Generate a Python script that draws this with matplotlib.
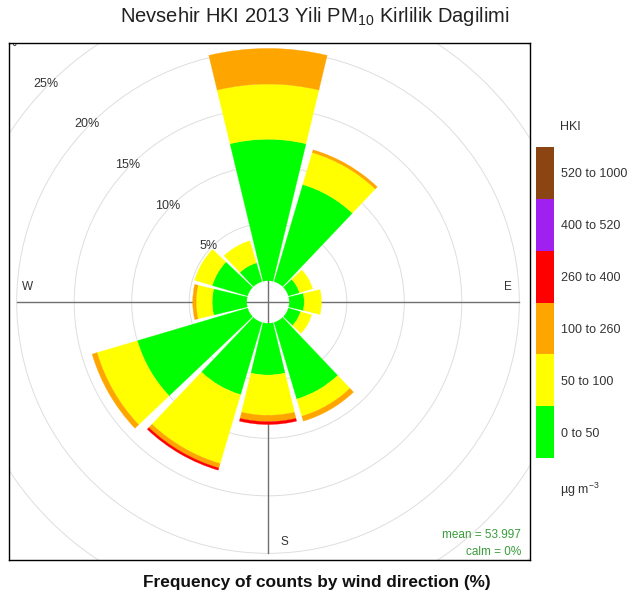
import matplotlib
matplotlib.use("Agg")
import matplotlib.pyplot as plt
from matplotlib.patches import Wedge, Circle
from matplotlib.colors import ListedColormap, BoundaryNorm
import matplotlib.colorbar as mcolorbar
import numpy as np

plt.rcParams['font.family'] = ['Liberation Sans', 'DejaVu Sans']
plt.rcParams['mathtext.fontset'] = 'custom'
plt.rcParams['mathtext.rm'] = 'Liberation Sans'
plt.rcParams['mathtext.it'] = 'Liberation Sans:italic'
plt.rcParams['mathtext.default'] = 'regular'

# ---------------- data (frequency %, per concentration bin) ----------------
directions = [0, 30, 60, 90, 120, 150, 180, 210, 240, 270, 300, 330]
freq_0_50 = [12.3, 8.8, 1.0, 1.3, 1.1, 6.95, 4.5, 6.55, 10.0, 3.0, 3.2, 1.7]
freq_50_100 = [4.8, 2.9, 1.2, 1.5, 1.0, 1.55, 3.5, 6.25, 3.65, 1.4, 1.6, 2.0]
freq_100_260 = [3.1, 0.25, 0, 0, 0, 0.45, 0.55, 0.4, 0.45, 0.3, 0, 0]
freq_260_400 = [0, 0, 0, 0, 0, 0, 0.25, 0.2, 0, 0, 0, 0]
freq_400_520 = [0, 0, 0, 0, 0, 0, 0, 0, 0, 0, 0, 0]
freq_520_1000 = [0, 0, 0, 0, 0, 0, 0, 0, 0, 0, 0, 0]
bin_labels = ["0 to 50", "50 to 100", "100 to 260", "260 to 400", "400 to 520", "520 to 1000"]
bin_colors = ["#00FF00", "#FFFF00", "#FFA500", "#FF0000", "#A020F0", "#8B4513"]
ring_levels = [5, 10, 15, 20, 25, 30]
compass_labels = ["N", "E", "S", "W"]
compass_bearings = [0, 90, 180, 270]
mean_value = 53.997
calm_pct = 0

OFFSET = 1.85      # inner empty circle (in % units)
SECTOR = 30        # degrees per sector
GAP = 3            # angular gap between sectors

W, H = 637, 601
fig = plt.figure(figsize=(W / 100, H / 100), dpi=100)
ax = fig.add_axes([9 / W, (H - 560) / H, 521 / W, 517 / H])
ax.set_xlim(-22.52, 22.78)
ax.set_ylim(-22.43, 22.52)
ax.set_xticks([])
ax.set_yticks([])
for s in ax.spines.values():
    s.set_linewidth(1.0)
    s.set_color('black')

# grid rings
for lev in ring_levels + [35, 40]:
    ax.add_patch(Circle((0, 0), OFFSET + lev, fill=False, ec='#dedede', lw=0.7, zorder=1))

# cross lines
ax.plot([-21.8, 21.8], [0, 0], color='#707070', lw=1.0, zorder=1.5)
ax.plot([0, 0], [-21.8, 21.8], color='#707070', lw=1.0, zorder=1.5)

# ring labels
for lev in ring_levels:
    r = OFFSET + lev
    ax.text(-r * np.cos(np.pi / 4) - 0.3, r * np.sin(np.pi / 4), f"{lev}%",
            ha='center', va='center', fontsize=9, color='#333333', zorder=2, clip_on=True)

# compass labels
for lab, b in zip(compass_labels, compass_bearings):
    rr = 20.9
    x = rr * np.sin(np.radians(b))
    y = rr * np.cos(np.radians(b))
    if b in (90, 270):
        y += 1.3
    else:
        x += 1.4
    ax.text(x, y, lab, ha='center', va='center', fontsize=8.5, color='#333333', zorder=1.6)

# stacked wedges
bins = [freq_0_50, freq_50_100, freq_100_260, freq_260_400, freq_400_520, freq_520_1000]
half = (SECTOR - GAP) / 2
for i, b in enumerate(directions):
    base = 0.0
    theta_c = 90 - b
    for vals, col in zip(bins, bin_colors):
        v = vals[i]
        if v > 0:
            ax.add_patch(Wedge((0, 0), OFFSET + base + v, theta_c - half, theta_c + half,
                               width=v, fc=col, ec=col, lw=0.2, zorder=3))
            base += v

ax.text(0.983, 0.048, f"mean = {mean_value}", transform=ax.transAxes, ha='right', va='center',
        fontsize=8.5, color='#3a9a3a')
ax.text(0.983, 0.016, f"calm = {calm_pct}%", transform=ax.transAxes, ha='right', va='center',
        fontsize=8.5, color='#3a9a3a')

# titles
fig.text(315 / W, 1 - 17 / H, r"Nevsehir HKI 2013 Yili PM$_{10}$ Kirlilik Dagilimi",
         ha='center', va='center', fontsize=14.5, color='#222222')
fig.text(317 / W, 1 - 582 / H, "Frequency of counts by wind direction (%)",
         ha='center', va='center', fontsize=12.4, fontweight='bold', color='#111111')

# colour key
cax = fig.add_axes([536 / W, (H - 458) / H, 18 / W, 311 / H])
cmap = ListedColormap(bin_colors)
nb = len(bin_colors)
norm = BoundaryNorm(list(range(nb + 1)), nb)
cb = mcolorbar.ColorbarBase(cax, cmap=cmap, norm=norm, boundaries=list(range(nb + 1)),
                            ticks=[k + 0.5 for k in range(nb)])
cb.set_ticklabels(bin_labels)
cb.outline.set_visible(False)
cax.minorticks_off()
cax.tick_params(which='both', length=0, pad=5, labelsize=9, labelcolor='#333333')
fig.text(560 / W, 1 - 127 / H, "HKI", ha='left', va='center', fontsize=9, color='#333333')
fig.text(560 / W, 1 - 490 / H, r"µg m$^{-3}$", ha='left', va='center', fontsize=9, color='#333333')

fig.savefig("out.png", dpi=100)
